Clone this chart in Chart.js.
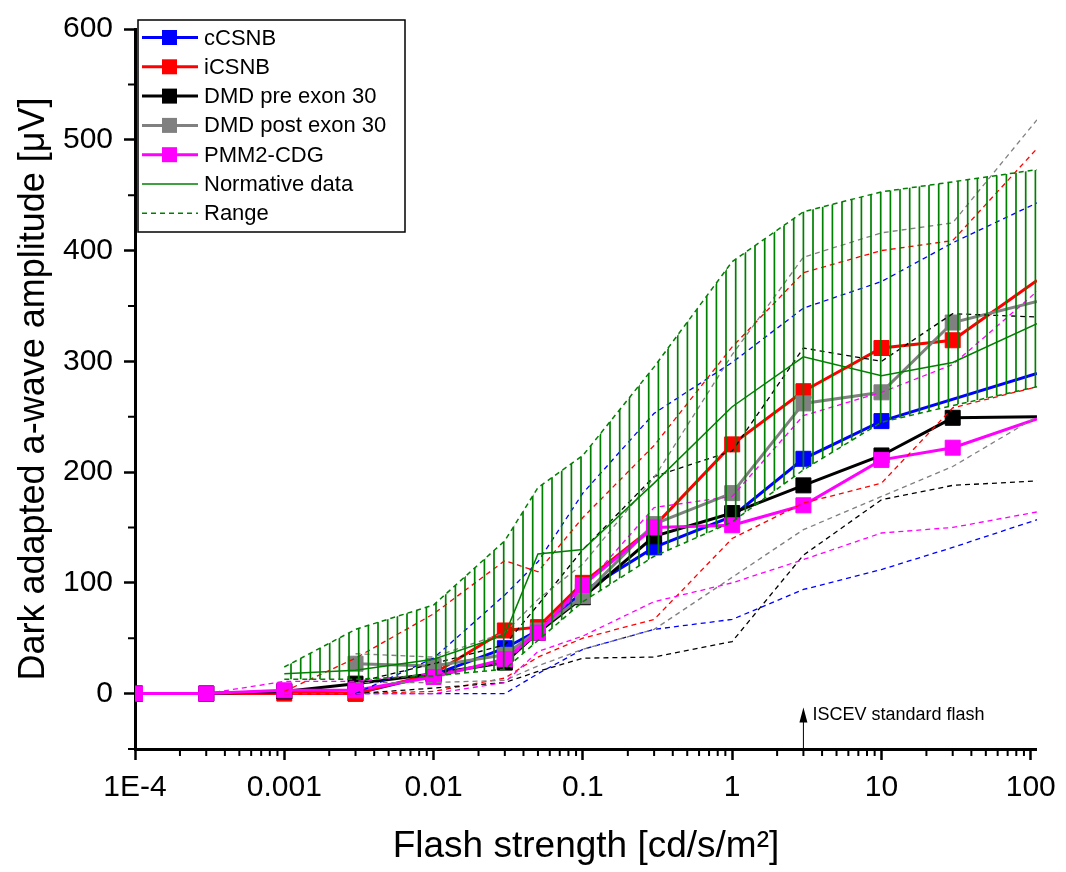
<!DOCTYPE html>
<html>
<head>
<meta charset="utf-8">
<script src="https://cdn.jsdelivr.net/npm/chart.js@4.4.0/dist/chart.umd.min.js"></script>
<style>
  html, body { margin: 0; padding: 0; background: #fff; }
</style>
</head>
<body>
<canvas id="ergChart" width="1066" height="872"></canvas>
<script>
// flash strengths (last one sits just past the right edge of the axis)
const flash = [0.0001, 0.0003, 0.001, 0.003, 0.01, 0.03, 0.05, 0.1, 0.3, 1, 3, 10, 30, 110];

// group means
const cCSNB   = [0, 0, 2, 0, 17, 41, 57, 92, 132, 160, 212, 246, null, 289];
const iCSNB   = [0, 0, 0, 0, 18, 57, 60, 100, 151, 225, 273, 312, 319, 373];
const dmdPre  = [0, 0, 2, 9, 18, 28, 55, 87, 142, 163, 188, 215, 249, 250];
const dmdPost = [null, null, null, 27, 25, 35, 57, 88, 153, 181, 262, 272, 335, 354];
const pmm2    = [0, 0, 3, 3, 15, 31, 55, 98, 150, 152, 170, 211, 222, 248];

// normative data + range
const normMean = [null, null, 18, 21, 31, 53, 126, 130, 190, 259, 304, 287, 299, 334];
const normHigh = [null, null, 24, 58, 80, 138, 186, 215, 295, 390, 435, 453, 462, 473];
const normLow  = [null, null, 13, 13, 16, 22, 48, 83, 124, 155, 202, 245, 260, 277];

// ranges of each group
const cCSNBHigh   = [null, null, null, 0, 32, 89, 119, 181, 253, 299, 348, 372, 407, 443];
const cCSNBLow    = [null, null, null, 0, 0, 0, 18, 40, 58, 67, 94, 112, 132, 157];
const iCSNBHigh   = [null, null, 2, 32, 72, 120, 110, 159, 224, 313, 380, 400, 409, 492];
const iCSNBLow    = [null, null, 0, 0, 2, 14, 33, 50, 67, 140, 172, 190, 258, 277];
const dmdPreHigh  = [null, null, null, 10, 27, 44, 80, 130, 196, 219, 312, 300, 343, 340];
const dmdPreLow   = [null, null, null, 0, 5, 10, 20, 32, 33, 47, 125, 175, 188, 192];
const dmdPostHigh = [null, null, null, 36, 33, 55, 85, 117, 195, 306, 394, 416, 425, 518];
const dmdPostLow  = [null, null, null, 10, 10, 12, 25, 40, 58, 105, 148, 178, 205, 250];
const pmm2High    = [null, 0, 11, 11, 18, 28, 55, 95, 168, 178, 251, 272, 297, 363];
const pmm2Low     = [null, null, 0, 0, 0, 10, 38, 52, 83, 100, 121, 145, 150, 164];

// axis ticks
const xTickValues = [0.0001, 0.001, 0.01, 0.1, 1, 10, 100];
const xTickLabels = ['1E-4', '0.001', '0.01', '0.1', '1', '10', '100'];
const yTickValues = [0, 100, 200, 300, 400, 500, 600];
const yMinorValues = [-50, 50, 150, 250, 350, 450, 550];

const GREEN = '#008000';
const FONT = "'Liberation Sans', Arial, sans-serif";

function pts(arr) {
  return flash.map((x, i) => ({ x: x, y: arr[i] }));
}

// vertical hatching used by Origin for the normative band
function hatch() {
  const c = document.createElement('canvas');
  c.width = 29; c.height = 8;
  const g = c.getContext('2d');
  g.strokeStyle = GREEN;
  g.lineWidth = 1.7;
  [1, 10.7, 20.4].forEach(px => {
    g.beginPath(); g.moveTo(px, 0); g.lineTo(px, 8); g.stroke();
  });
  return g.createPattern(c, 'repeat');
}

function rangeLine(arr, color) {
  return {
    data: pts(arr), borderColor: color, borderWidth: 1.3, borderDash: [5, 4],
    pointRadius: 0, fill: false, spanGaps: true
  };
}

function mainLine(label, arr, color) {
  return {
    label: label, data: pts(arr), borderColor: color, backgroundColor: color,
    borderWidth: 3, pointStyle: 'rect',
    pointRadius: ctx => ctx.dataIndex === flash.length - 1 ? 0 : 10.6,
    pointBorderWidth: 1, pointBorderColor: color, pointBackgroundColor: color,
    fill: false, spanGaps: true
  };
}

const datasets = [
  { label: 'Range', data: pts(normHigh), borderColor: GREEN, borderWidth: 1.5, borderDash: [5, 4],
    pointRadius: 0, fill: '+1', backgroundColor: hatch() },
  { data: pts(normLow), borderColor: GREEN, borderWidth: 1.5, borderDash: [5, 4], pointRadius: 0, fill: false },
  { label: 'Normative data', data: pts(normMean), borderColor: GREEN, borderWidth: 1.5, pointRadius: 0, fill: false },
  rangeLine(pmm2High, '#ff00ff'), rangeLine(pmm2Low, '#ff00ff'),
  rangeLine(dmdPostHigh, '#808080'), rangeLine(dmdPostLow, '#808080'),
  rangeLine(dmdPreHigh, '#000000'), rangeLine(dmdPreLow, '#000000'),
  rangeLine(iCSNBHigh, '#ff0000'), rangeLine(iCSNBLow, '#ff0000'),
  rangeLine(cCSNBHigh, '#0000ff'), rangeLine(cCSNBLow, '#0000ff'),
  mainLine('PMM2-CDG', pmm2, '#ff00ff'),
  mainLine('DMD post exon 30', dmdPost, '#808080'),
  mainLine('DMD pre exon 30', dmdPre, '#000000'),
  mainLine('iCSNB', iCSNB, '#ff0000'),
  mainLine('cCSNB', cCSNB, '#0000ff')
];

// legend order as in the figure
const legendOrder = ['cCSNB', 'iCSNB', 'DMD pre exon 30', 'DMD post exon 30', 'PMM2-CDG', 'Normative data', 'Range'];

const minorTicks = {
  id: 'minorTicks',
  afterDraw(chart) {
    const { ctx, scales: { x, y } } = chart;
    ctx.save();
    ctx.strokeStyle = '#000';
    ctx.lineWidth = 2;
    ctx.beginPath();
    for (let d = -4; d <= 2; d++) {
      for (let m = 2; m <= 9; m++) {
        const v = m * Math.pow(10, d);
        if (v > x.max) break;
        const px = x.getPixelForValue(v);
        ctx.moveTo(px, y.bottom); ctx.lineTo(px, y.bottom + 7);
      }
    }
    yMinorValues.forEach(v => {
      const py = y.getPixelForValue(v);
      ctx.moveTo(x.left, py); ctx.lineTo(x.left - 7, py);
    });
    ctx.stroke();
    ctx.restore();
  }
};

const iscev = {
  id: 'iscev',
  afterDraw(chart) {
    const { ctx, scales: { x, y } } = chart;
    const px = x.getPixelForValue(3);
    const tip = y.getPixelForValue(-12.5);
    ctx.save();
    ctx.strokeStyle = '#000'; ctx.fillStyle = '#000'; ctx.lineWidth = 1;
    ctx.beginPath(); ctx.moveTo(px, y.bottom); ctx.lineTo(px, tip + 10); ctx.stroke();
    ctx.beginPath(); ctx.moveTo(px, tip); ctx.lineTo(px - 4, tip + 15); ctx.lineTo(px + 4, tip + 15); ctx.closePath(); ctx.fill();
    ctx.font = '18px ' + FONT;
    ctx.textBaseline = 'middle';
    ctx.fillText('ISCEV standard flash', px + 9, tip + 8);
    ctx.restore();
  }
};

const boxLegend = {
  id: 'boxLegend',
  afterDraw(chart) {
    const ctx = chart.ctx;
    const x0 = 138, y0 = 20, w = 267, h = 212, row = 29.3;
    ctx.save();
    ctx.fillStyle = '#fff';
    ctx.fillRect(x0, y0, w, h);
    ctx.strokeStyle = '#000'; ctx.lineWidth = 1.5;
    ctx.strokeRect(x0, y0, w, h);
    ctx.font = '22px ' + FONT;
    ctx.textBaseline = 'middle';
    legendOrder.forEach((name, i) => {
      const ds = chart.data.datasets.find(d => d.label === name);
      const cy = y0 + 17.5 + i * row;
      ctx.strokeStyle = ds.borderColor;
      ctx.lineWidth = ds.borderWidth;
      ctx.setLineDash(ds.borderDash || []);
      ctx.beginPath(); ctx.moveTo(142, cy); ctx.lineTo(198, cy); ctx.stroke();
      ctx.setLineDash([]);
      if (ds.pointStyle === 'rect') {
        ctx.fillStyle = ds.borderColor;
        ctx.fillRect(162, cy - 7.5, 15, 15);
      }
      ctx.fillStyle = '#000';
      ctx.fillText(name, 204, cy + 1);
    });
    ctx.restore();
  }
};

new Chart(document.getElementById('ergChart'), {
  type: 'line',
  data: { datasets: datasets },
  options: {
    responsive: false,
    devicePixelRatio: 1,
    animation: false,
    events: [],
    layout: { padding: { top: 20, right: 29, left: 0, bottom: 0 } },
    plugins: { legend: { display: false }, tooltip: { enabled: false } },
    scales: {
      x: {
        type: 'logarithmic',
        min: 0.0001,
        max: 110,
        afterBuildTicks: s => { s.ticks = xTickValues.map(v => ({ value: v })); },
        afterFit: s => { s.height = 123; },
        border: { display: true, color: '#000', width: 3 },
        grid: { drawOnChartArea: false, drawTicks: true, tickLength: 11, tickWidth: 2.5, tickColor: '#000' },
        ticks: {
          autoSkip: false, maxRotation: 0, padding: 10, color: '#000',
          font: { family: FONT, size: 30 },
          callback: (v, i) => xTickLabels[i]
        },
        title: {
          display: true, text: 'Flash strength [cd/s/m²]', color: '#000',
          font: { family: FONT, size: 37 }, padding: { top: 0, bottom: 3 }
        }
      },
      y: {
        type: 'linear',
        min: -50,
        max: 600,
        afterBuildTicks: s => { s.ticks = yTickValues.map(v => ({ value: v })); },
        afterFit: s => { s.width = 135; },
        border: { display: true, color: '#000', width: 3 },
        grid: { drawOnChartArea: false, drawTicks: true, tickLength: 11, tickWidth: 2.5, tickColor: '#000' },
        ticks: { padding: 11, color: '#000', font: { family: FONT, size: 30 } },
        title: {
          display: true, text: 'Dark adapted a-wave amplitude [μV]', color: '#000',
          font: { family: FONT, size: 36 }, padding: { top: 12, bottom: 0 }
        }
      }
    }
  },
  plugins: [minorTicks, iscev, boxLegend]
});
</script>
</body>
</html>
